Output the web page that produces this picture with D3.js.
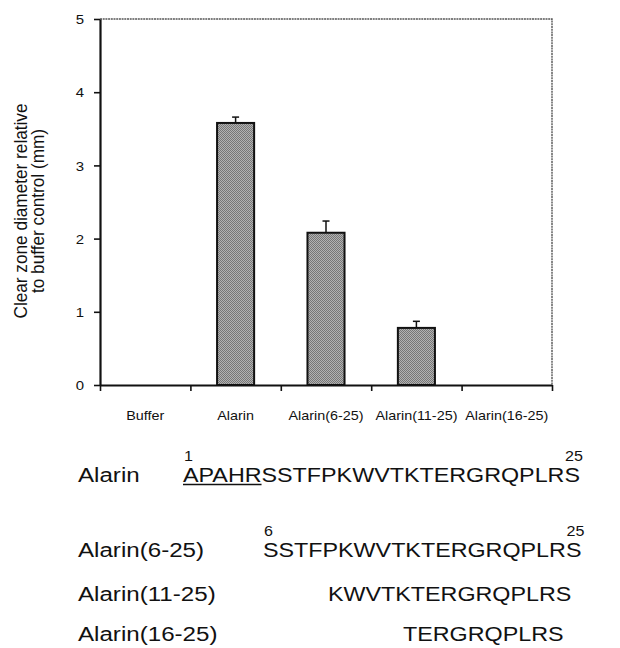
<!DOCTYPE html>
<html>
<head>
<meta charset="utf-8">
<script src="https://cdn.jsdelivr.net/npm/d3@7"></script>
<style>
  html, body { margin: 0; padding: 0; background: #fff; }
  svg { display: block; }
  text { font-family: Arial, "Liberation Sans", Helvetica, sans-serif; fill: #111; }
</style>
</head>
<body>
<svg id="chart" width="620" height="648"></svg>
<script>
// ---- data ----
const categories = ["Buffer", "Alarin", "Alarin(6-25)", "Alarin(11-25)", "Alarin(16-25)"];
const values = [0, 3.58, 2.08, 0.78, 0];
const errors = [0, 0.08, 0.16, 0.09, 0];
const yTicks = [0, 1, 2, 3, 4, 5];
const yTitle = ["Clear zone diameter relative", "to buffer control (mm)"];

const peptideNames = ["Alarin", "Alarin(6-25)", "Alarin(11-25)", "Alarin(16-25)"];
const peptideSeqs = ["APAHRSSTFPKWVTKTERGRQPLRS", "SSTFPKWVTKTERGRQPLRS", "KWVTKTERGRQPLRS", "TERGRQPLRS"];
const startNums = ["1", "6", null, null];
const endNums = ["25", "25", null, null];
const underlineCount = [5, 0, 0, 0];

// ---- layout ----
const svg = d3.select("#chart");
const L = 100, R = 552, T = 19, B = 385;
const SX = 1.15; // horizontal stretch of the original text

const x = d3.scaleBand().domain(categories).range([L, R]).paddingInner(0.59).paddingOuter(0.295);
const y = d3.scaleLinear().domain([0, 5]).range([B, T]);

// pattern (halftone gray)
const defs = svg.append("defs");
const pat = defs.append("pattern").attr("id", "halftone").attr("width", 2).attr("height", 2)
  .attr("patternUnits", "userSpaceOnUse");
pat.append("rect").attr("width", 2).attr("height", 2).attr("fill", "#b2b2b2");
pat.append("rect").attr("x", 0).attr("y", 0).attr("width", 1).attr("height", 1).attr("fill", "#767676");
pat.append("rect").attr("x", 1).attr("y", 1).attr("width", 1).attr("height", 1).attr("fill", "#767676");

// top & right frame (gray speckled)
svg.append("path")
  .attr("d", `M${L},${T}H${R}V${B}`)
  .attr("fill", "none").attr("stroke", "#555").attr("stroke-width", 1.4)
  .attr("stroke-dasharray", "2,0.7");

// bars
svg.append("g").selectAll("rect").data(categories).join("rect")
  .attr("x", d => x(d))
  .attr("y", (d, i) => y(values[i]))
  .attr("width", x.bandwidth())
  .attr("height", (d, i) => y(0) - y(values[i]))
  .attr("fill", "url(#halftone)")
  .attr("stroke", "#111").attr("stroke-width", 2);

// error bars
const eb = svg.append("g").attr("stroke", "#111").attr("stroke-width", 1.5);
categories.forEach((c, i) => {
  if (errors[i] <= 0) return;
  const cx = x(c) + x.bandwidth() / 2;
  eb.append("line").attr("x1", cx).attr("x2", cx).attr("y1", y(values[i])).attr("y2", y(values[i] + errors[i]));
  eb.append("line").attr("x1", cx - 3.5).attr("x2", cx + 3.5).attr("y1", y(values[i] + errors[i])).attr("y2", y(values[i] + errors[i]));
});

// left axis
const yAxis = svg.append("g").attr("transform", `translate(${L},0)`)
  .call(d3.axisLeft(y).tickValues(yTicks).tickSize(6).tickSizeOuter(0).tickFormat(d3.format("d")));
yAxis.select(".domain").attr("stroke", "#111").attr("stroke-width", 2.2);
yAxis.selectAll(".tick line").attr("stroke", "#111").attr("stroke-width", 1.6);
yAxis.selectAll(".tick text").remove();
yAxis.selectAll(".tick").append("text")
  .attr("transform", `translate(-16,0) scale(${SX},1)`)
  .attr("text-anchor", "end").attr("dy", "0.36em")
  .style("font-size", "13px").style("fill", "#111")
  .text(d => d3.format("d")(d));

// bottom axis: ticks at category boundaries
const xb = d3.scaleLinear().domain([0, categories.length]).range([L, R]);
const xAxis = svg.append("g").attr("transform", `translate(0,${B})`)
  .call(d3.axisBottom(xb).tickValues(d3.range(categories.length + 1)).tickSize(6).tickSizeOuter(0).tickFormat(""));
xAxis.select(".domain").attr("stroke", "#111").attr("stroke-width", 2.2);
xAxis.selectAll(".tick line").attr("stroke", "#111").attr("stroke-width", 1.6);

// x labels
svg.append("g").selectAll("text").data(categories).join("text")
  .attr("transform", d => `translate(${x(d) + x.bandwidth() / 2},420) scale(${SX},1)`)
  .attr("text-anchor", "middle")
  .style("font-size", "12.5px")
  .text(d => d);

// y title
const yt = svg.append("g").attr("transform", "translate(0,211)");
yTitle.forEach((t, i) => {
  yt.append("text")
    .attr("transform", `translate(${27 + i * 16.5},0) scale(1.1,1) rotate(-90)`)
    .attr("text-anchor", "middle")
    .style("font-size", "17.2px")
    .text(t);
});

// ---- sequence table ----
const rowBase = [482, 557, 601, 641];
const seqX = [183, 263, 328, 403];
const seqScale = 1.11;
const g2 = svg.append("g");
peptideNames.forEach((name, i) => {
  g2.append("text")
    .attr("transform", `translate(78,${rowBase[i]}) scale(${SX},1)`)
    .style("font-size", "21px")
    .text(name);
  const st = g2.append("text")
    .attr("transform", `translate(${seqX[i]},${rowBase[i]}) scale(${seqScale},1)`)
    .style("font-size", "21px")
    .text(peptideSeqs[i]);
  if (underlineCount[i] > 0) {
    const w = st.node().getSubStringLength(0, underlineCount[i]) * seqScale;
    g2.append("line").attr("x1", seqX[i]).attr("x2", seqX[i] + w)
      .attr("y1", rowBase[i] + 2.5).attr("y2", rowBase[i] + 2.5)
      .attr("stroke", "#111").attr("stroke-width", 1.4);
  }
  if (startNums[i]) {
    g2.append("text")
      .attr("transform", `translate(${seqX[i] + 1},${rowBase[i] - 21}) scale(${SX},1)`)
      .style("font-size", "14px")
      .text(startNums[i]);
  }
  if (endNums[i]) {
    const endX = seqX[i] + st.node().getComputedTextLength() * seqScale;
    g2.append("text")
      .attr("transform", `translate(${endX + 3},${rowBase[i] - 21}) scale(${SX},1)`)
      .attr("text-anchor", "end")
      .style("font-size", "14px")
      .text(endNums[i]);
  }
});
</script>
</body>
</html>
